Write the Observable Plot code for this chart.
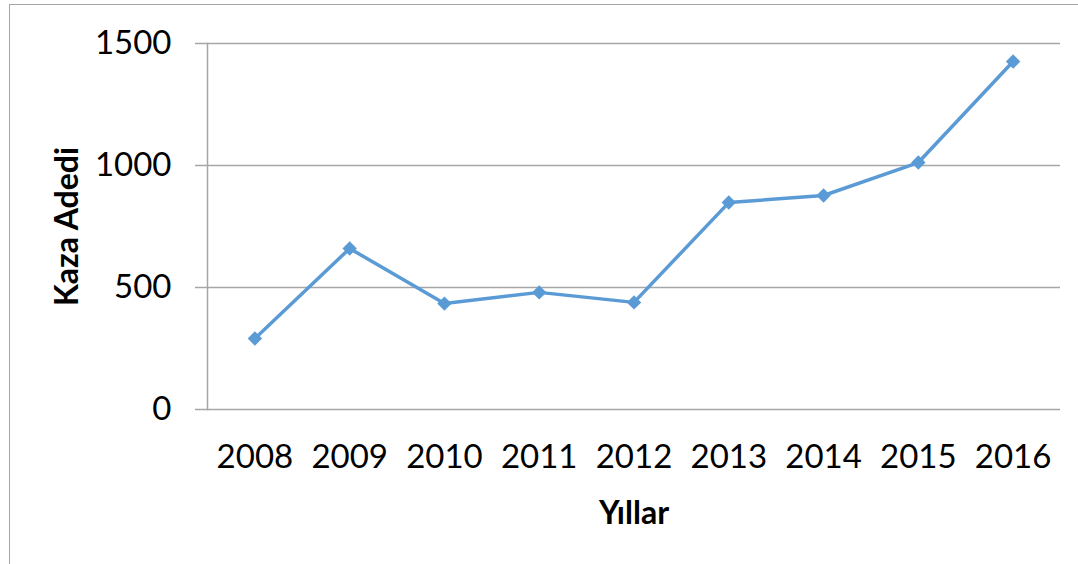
<!DOCTYPE html>
<html>
<head>
<meta charset="utf-8">
<script src="https://cdn.jsdelivr.net/npm/d3@7"></script>
<script src="https://cdn.jsdelivr.net/npm/@observablehq/plot@0.6"></script>
<style>
  html, body { margin: 0; padding: 0; background: #fff; }
  #wrap { position: relative; width: 1078px; height: 564px; overflow: hidden; }
  #border { position: absolute; left: 9px; top: 4px; right: -2px; bottom: -2px;
            border-left: 1.5px solid #a6a6a6; border-top: 1.5px solid #a6a6a6; pointer-events: none; }
  #chart { position: absolute; left: 0; top: 0; }
</style>
</head>
<body>
<div id="wrap"><div id="chart"></div><div id="border"></div></div>
<script>
const years = ["2008","2009","2010","2011","2012","2013","2014","2015","2016"];
const kazaAdedi = [291, 660, 434, 480, 439, 848, 877, 1012, 1426];
const yTicks = [0, 500, 1000, 1500];
const yLabel = "Kaza Adedi";
const xLabel = "Yıllar";

const data = years.map((y, i) => ({year: y, value: kazaAdedi[i]}));
const color = "#5B9BD5";

const chart = Plot.plot({
  width: 1078,
  height: 564,
  marginLeft: 207,
  marginRight: 18,
  marginTop: 43,
  marginBottom: 155,
  style: {fontFamily: "Lato, 'Open Sans', sans-serif", fontSize: "33px", color: "#000", background: "transparent"},
  x: {type: "point", domain: years, padding: 0.5, round: false},
  y: {domain: [0, 1500]},
  marks: [
    Plot.ruleY(yTicks, {stroke: "#a6a6a6", strokeWidth: 1.5, strokeOpacity: 1, insetLeft: -12}),
    Plot.frame({anchor: "left", stroke: "#a6a6a6", strokeWidth: 1.5}),
    Plot.axisY(yTicks, {tickSize: 0, tickPadding: 36, label: null, fontSize: 33, tickFormat: d => String(d)}),
    Plot.axisX({tickSize: 0, tickPadding: 35, label: null, fontSize: 33}),
    Plot.line(data, {x: "year", y: "value", stroke: color, strokeWidth: 3.5}),
    Plot.dot(data, {x: "year", y: "value", symbol: "diamond2", r: 6.5, fill: color, stroke: null}),
    Plot.text([yLabel], {frameAnchor: "left", dx: -140, rotate: -90, textAnchor: "middle", fontWeight: "bold", fontSize: 32, fill: "#000"}),
    Plot.text([xLabel], {frameAnchor: "bottom", dy: 114, textAnchor: "middle", fontWeight: "bold", fontSize: 32, fill: "#000"})
  ]
});
document.getElementById("chart").appendChild(chart);
</script>
</body>
</html>
